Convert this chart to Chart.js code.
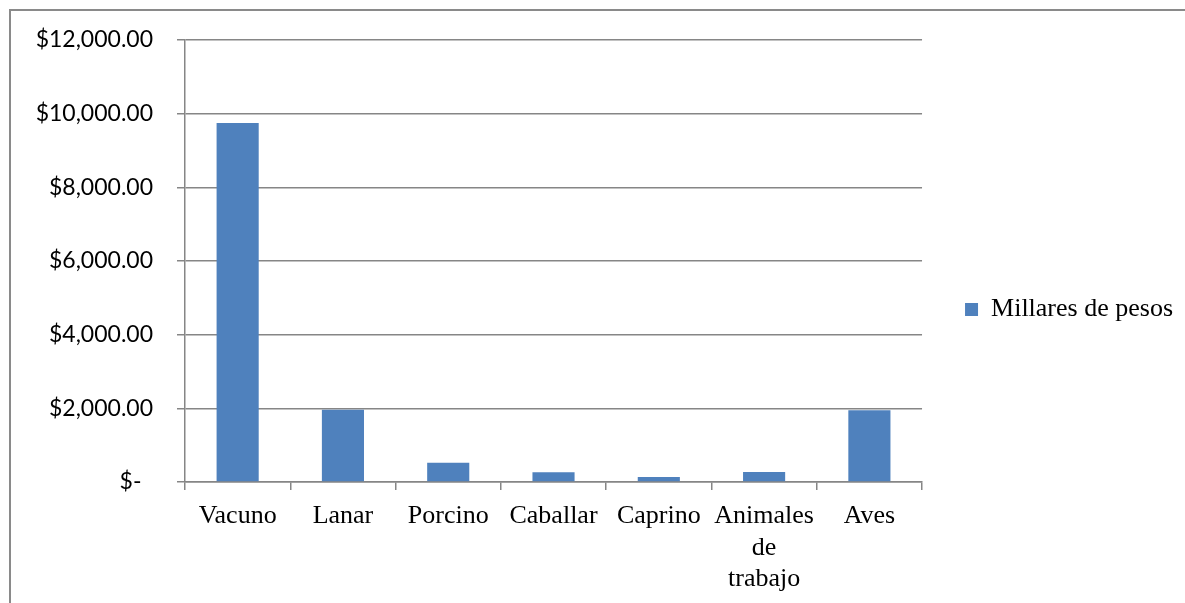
<!DOCTYPE html>
<html>
<head>
<meta charset="utf-8">
<script src="https://cdn.jsdelivr.net/npm/chart.js@4.4.1/dist/chart.umd.min.js"></script>
<style>
  html, body { margin: 0; padding: 0; background: #fff; overflow: hidden; }
  #wrap { position: absolute; left: 0; top: 0; width: 1185px; height: 603px; }
  #frame { position: absolute; left: 9px; top: 9px; width: 1300px; height: 700px;
           border-left: 2px solid #8a8a8a; border-top: 2px solid #8a8a8a; pointer-events: none; }
</style>
</head>
<body>
<div id="wrap">
  <canvas id="c" width="1185" height="603"></canvas>
  <div id="frame"></div>
</div>
<script>
const categories = ['Vacuno', 'Lanar', 'Porcino', 'Caballar', 'Caprino', ['Animales', 'de', 'trabajo'], 'Aves'];
const seriesName = 'Millares de pesos';
const values = [9750, 1960, 520, 265, 135, 270, 1950];
const yMax = 12000;
const yStep = 2000;

function fmtMoney(v) {
  if (v === 0) return '$-\u2002';
  return '$' + v.toLocaleString('en-US', { minimumFractionDigits: 2, maximumFractionDigits: 2 });
}

const gray = '#868686';

// Nudge the legend's vertical box so its item sits where the reference shows it
const legendNudge = {
  id: 'legendNudge',
  afterLayout(chart) {
    if (chart.legend) {
      chart.legend.bottom -= 24;
      chart.legend.height -= 24;
    }
  }
};

new Chart(document.getElementById('c'), {
  type: 'bar',
  data: {
    labels: categories,
    datasets: [{
      label: seriesName,
      data: values,
      backgroundColor: '#4F81BD',
      borderWidth: 0,
      barPercentage: 0.4,
      categoryPercentage: 1.0
    }]
  },
  plugins: [legendNudge],
  options: {
    responsive: false,
    animation: false,
    layout: { padding: { top: 40, right: 2, bottom: 0, left: 0 } },
    plugins: {
      legend: {
        position: 'right',
        align: 'center',
        labels: {
          boxWidth: 13,
          boxHeight: 13,
          padding: 43,
          color: '#000',
          font: { family: '"Liberation Serif", "Times New Roman", serif', size: 26 }
        }
      },
      tooltip: { enabled: false }
    },
    scales: {
      x: {
        offset: true,
        grid: {
          offset: true,
          drawOnChartArea: false,
          drawTicks: true,
          tickLength: 8,
          color: gray,
          lineWidth: 1.5
        },
        border: { display: true, color: gray, width: 1.5 },
        ticks: {
          color: '#000',
          padding: 11,
          maxRotation: 0,
          autoSkip: false,
          font: { family: '"Liberation Serif", "Times New Roman", serif', size: 26, lineHeight: 1.2 }
        },
        afterFit: (s) => { s.height = 121; }
      },
      y: {
        min: 0,
        max: yMax,
        grid: {
          color: gray,
          lineWidth: 1.5,
          drawTicks: true,
          tickLength: 8
        },
        border: { display: true, color: gray, width: 1.5 },
        ticks: {
          stepSize: yStep,
          color: '#000',
          padding: 24,
          font: { family: 'Lato, "Open Sans", sans-serif', size: 23 },
          callback: (v) => fmtMoney(v)
        },
        afterFit: (s) => { s.width = 185; }
      }
    }
  }
});
</script>
</body>
</html>
